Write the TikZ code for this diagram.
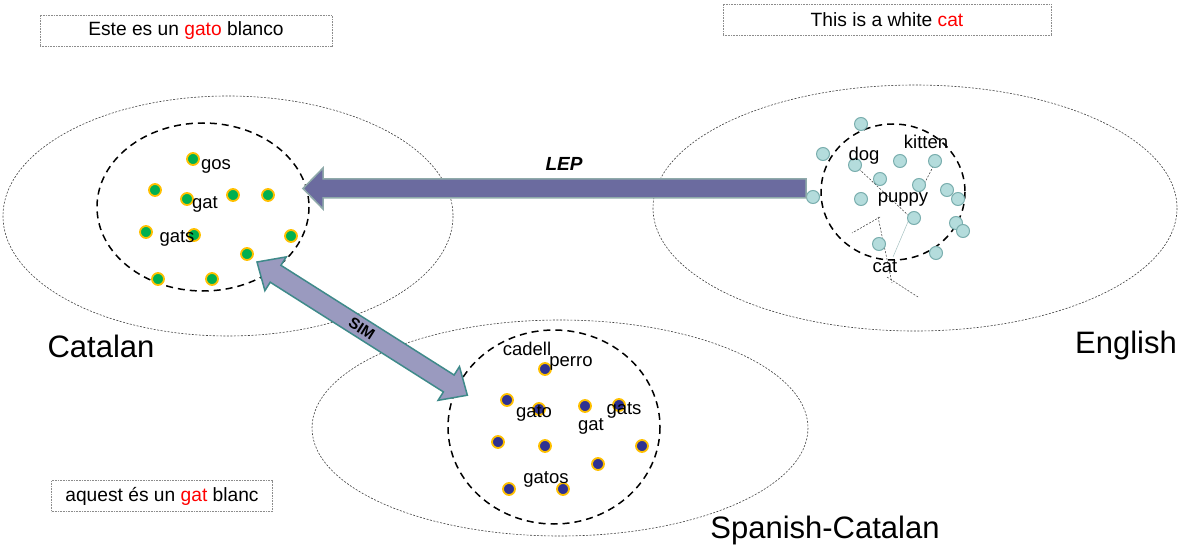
\documentclass[tikz,border=0pt]{standalone}
\usepackage{fontspec}
\setmainfont{Liberation Sans}
\usetikzlibrary{calc}
\definecolor{catgreen}{HTML}{00B050}
\definecolor{dotorange}{HTML}{FFC000}
\definecolor{spnavy}{HTML}{2E3192}
\definecolor{enfill}{HTML}{B4DCDC}
\definecolor{enborder}{HTML}{7AAEAE}
\definecolor{lepfill}{HTML}{6B6B9F}
\definecolor{lepborder}{HTML}{8FAAAA}
\definecolor{simfill}{HTML}{9A9ABF}
\definecolor{simborder}{HTML}{3F8A8A}
\tikzset{
  outerell/.style={draw=black!75, line width=0.6pt, dash pattern=on 2pt off 1.5pt},
  innerell/.style={draw=black, line width=1.5pt, dash pattern=on 7pt off 5pt},
  catdot/.style={circle, fill=catgreen, draw=dotorange, line width=1.8pt, minimum size=12pt, inner sep=0pt},
  spdot/.style={circle, fill=spnavy, draw=dotorange, line width=1.8pt, minimum size=12pt, inner sep=0pt},
  endot/.style={circle, fill=enfill, draw=enborder, line width=1pt, minimum size=13pt, inner sep=0pt},
  word/.style={font=\fontsize{18.5}{20}\selectfont, inner sep=0pt},
  biglab/.style={font=\fontsize{31}{34}\selectfont, inner sep=0pt},
  sentbox/.style={draw=black!45, line width=0.9pt, dash pattern=on 1pt off 0.6pt, minimum height=31pt, font=\fontsize{19.2}{21}\selectfont, inner sep=0pt},
  thinlink/.style={draw=black!80, line width=0.5pt, dash pattern=on 2pt off 1.5pt},
}
\begin{document}
\begin{tikzpicture}[x=1pt,y=-1pt]
\useasboundingbox (0,0) rectangle (1183,548);
% outer ellipses
\draw[outerell] (228,216) ellipse [x radius=225, y radius=120];
\draw[outerell] (915,208) ellipse [x radius=262, y radius=123];
\draw[outerell] (560,428) ellipse [x radius=248, y radius=108];
% inner ellipses
\draw[innerell] (203,207) ellipse [x radius=106, y radius=84];
\draw[innerell] (893,192) ellipse [x radius=72, y radius=68];
\draw[innerell] (554,427) ellipse [x radius=106, y radius=97];

% sentence boxes
\node[sentbox, minimum width=292pt] (es) at (186,31) {Este es un \textcolor{red}{gato} blanco};
\node[sentbox, minimum width=328pt] (en) at (887,20) {This is a white \textcolor{red}{cat}};
\node[sentbox, minimum width=221pt] (ca) at (162,496) {aquest és un \textcolor{red}{gat} blanc};

% big labels
\node[biglab] (lcat) at (101,346) {Catalan};
\node[biglab] (leng) at (1126,345) {English};
\node[biglab] (lsp) at (825,530) {Spanish-Catalan};

% English thin links
\coordinate (l1a) at (859,169); \coordinate (l1b) at (910,217);
\coordinate (l2a) at (935,163); \coordinate (l2b) at (920,192);
\coordinate (l3a) at (880,217); \coordinate (l3b) at (852,233);
\coordinate (l4a) at (878,217); \coordinate (l4b) at (892,283);
\coordinate (l5a) at (887,277); \coordinate (l5b) at (918,297);
\coordinate (l6a) at (910,217); \coordinate (l6b) at (893,257);
\draw[thinlink] (l1a) -- (l1b);
\draw[thinlink] (l2a) -- (l2b);
\draw[thinlink] (l3a) -- (l3b);
\draw[thinlink] (l4a) -- (l4b);
\draw[thinlink] (l5a) -- (l5b);
\draw[enfill!70!gray, line width=0.5pt] (l6a) -- (l6b);

% Catalan dots
\foreach \p [count=\i] in {(193,159),(155,190),(187,199),(233,195),(268,195),(146,232),(194,235),(291,236),(247,254),(158,279),(212,279)}
  \node[catdot] (c\i) at \p {};
\node[word] (wgos) at (216,166) {gos};
\node[word] (wgat) at (205,204) {gat};
\node[word] (wgats) at (177,238) {gats};

% Spanish dots
\foreach \p [count=\i] in {(545,369),(507,400),(539,409),(585,406),(619,405),(498,442),(545,446),(642,446),(598,464),(509,489),(563,489)}
  \node[spdot] (s\i) at \p {};
\node[word] (wcadell) at (527,349) {cadell};
\node[word] (wperro) at (571,363) {perro};
\node[word] (wgato) at (534,413) {gato};
\node[word] (wgats2) at (624,410) {gats};
\node[word] (wgat2) at (591,426) {gat};
\node[word] (wgatos) at (546,479) {gatos};

% English dots
\foreach \p [count=\i] in {(861,124),(823,154),(855,165),(900,161),(935,161),(880,179),(919,185),(813,197),(861,199),(947,190),(958,199),(914,218),(956,223),(963,231),(879,244),(936,253)}
  \node[endot] (e\i) at \p {};
\node[word] (wkitten) at (926,142) {kitten};
\node[word] (wdog) at (864,156) {dog};
\node[word] (wpuppy) at (903,199) {puppy};
\node[word] (wcat) at (885,267) {cat};

% LEP arrow
\draw[fill=lepfill, draw=lepborder, line width=1.5pt, line join=miter]
  (806,179) -- (323,179) -- (323,168) -- (303,188.5) -- (323,209) -- (323,198) -- (806,198) -- cycle;
\node[font=\fontsize{19}{21}\selectfont\bfseries\itshape, inner sep=0pt] (lep) at (564,164) {LEP};

% SIM arrow
\begin{scope}[shift={(257,262)}, rotate=-32.35]
\draw[fill=simfill, draw=simborder, line width=1.5pt, line join=miter]
  (0pt,0pt) -- (22pt,20pt) -- (22pt,10pt) -- (227pt,10pt) -- (227pt,20pt) -- (249pt,0pt)
  -- (227pt,-20pt) -- (227pt,-10pt) -- (22pt,-10pt) -- (22pt,-20pt) -- cycle;
\node[font=\fontsize{15.5}{17}\selectfont\bfseries, inner sep=0pt, rotate=-32.35] (sim) at (124pt,0pt) {SIM};
\end{scope}
\end{tikzpicture}
\end{document}
